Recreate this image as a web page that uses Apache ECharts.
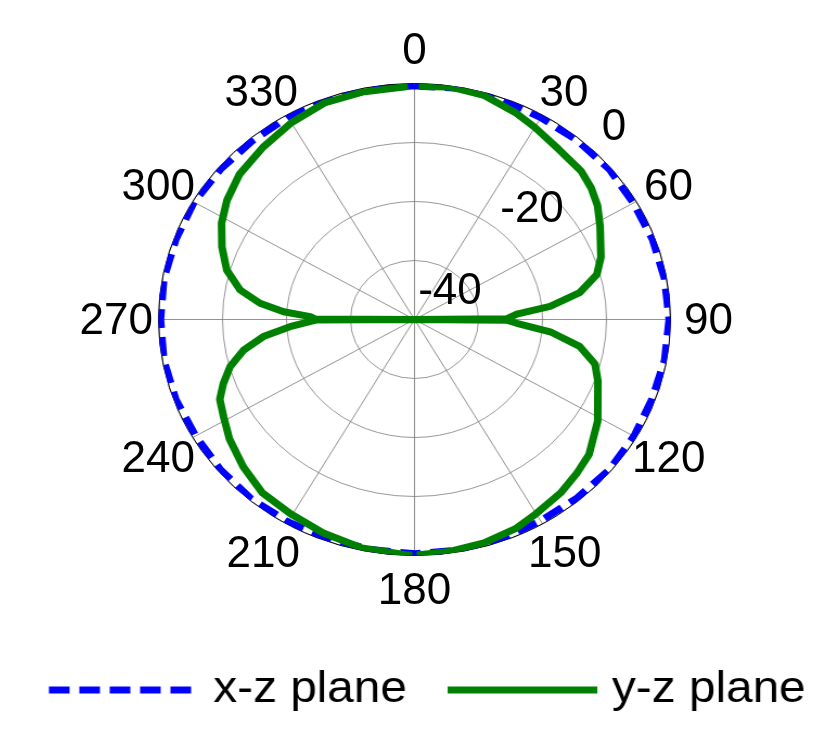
<!DOCTYPE html>
<html><head><meta charset="utf-8">
<script src="https://cdn.jsdelivr.net/npm/echarts@6/dist/echarts.min.js"></script>
<style>
html,body{margin:0;padding:0;background:#fff;overflow:hidden;width:830px;height:753px;}
#plot{position:absolute;left:0;top:0;width:830px;height:753px;transform-origin:414.5px 319.5px;transform:scaleX(1.0847);}
#text{position:absolute;left:0;top:0;width:830px;height:753px;}
</style></head><body>
<div id="plot"></div><div id="text"></div>
<script>
const FONT = '"Liberation Sans", Arial, Helvetica, sans-serif';

// ---- data ----
const seriesNames = ['x-z plane', 'y-z plane'];

const xzAngles = [0,10,20,30,40,50,60,70,80,90,100,110,120,130,140,150,160,170,180,
                  190,200,210,220,230,240,250,260,270,280,290,300,310,320,330,340,350,360];
const xzValues = [-0.4,-0.2,-0.3,-0.5,-0.4,-0.3,-0.5,-0.4,-0.3,-0.2,-0.3,-0.5,-0.4,-0.3,-0.5,-0.6,-0.4,-0.3,-0.3,
                  -0.4,-0.5,-0.4,-0.3,-0.4,-0.5,-0.3,-0.2,-0.3,-0.2,-0.3,-0.2,-0.4,-0.5,-0.4,-0.5,-0.4,-0.4];

const yzAngles = [1,8,16,24.5,30,38,46,51,56,61.5,70,75,80,84,86.7,89.5,90,90.5,92.3,95.6,
                  100,105,110,121,130,136,142,150,156,164,172,179.5,180,180.5,182,192,201.5,210.5,219,227,
                  235,241,246,250,254.5,259,263,266.4,269.7,270,270.3,271.7,273.7,276.5,280.4,285.9,292.2,298.5,304.6,312,
                  321,330,339,348,358.5];
const yzValues = [-0.5,-0.2,-0.5,-1.6,-2.4,-3.4,-3.8,-4.5,-5.5,-7.0,-9.0,-10.5,-13.8,-18.7,-24,-25.6,-40,-25.6,-24,-18.7,
                  -13.8,-10.8,-9.5,-6.6,-4.4,-3.6,-2.8,-2.0,-1.2,-0.6,-0.3,-0.1,null,-0.1,-0.1,-0.4,-1.1,-1.8,-2.2,-3.4,
                  -4.7,-5.9,-6.7,-8.2,-10.1,-12.8,-16.2,-20.5,-24.7,-40,-24.5,-23.7,-19.5,-15.7,-12.3,-9.5,-7.5,-5.7,-4.4,-3.2,
                  -2.4,-1.5,-0.7,-0.6,-0.5];

const angleTickLabels = [0,30,60,90,120,150,180,210,240,270,300,330];
const radiusTickLabels = [-40,-20,0];

// ---- build ----
const toPolar = (vals, angs) => vals.map((v, i) => [v === null ? '-' : v, angs[i]]);
const xzData = toPolar(xzValues, xzAngles);
const yzData = toPolar(yzValues, yzAngles);

const plot = echarts.init(document.getElementById('plot'));
plot.setOption({
  animation: false,
  backgroundColor: '#fff',
  polar: { center: [414.5, 319.5], radius: 236 },
  angleAxis: {
    type: 'value', min: 0, max: 360, interval: 30, startAngle: 90, clockwise: true,
    axisLine: { show: true, lineStyle: { color: '#000', width: 1 } },
    axisTick: { show: false }, axisLabel: { show: false },
    splitLine: { show: true, lineStyle: { color: '#777', width: 0.8 } }
  },
  radiusAxis: {
    type: 'value', min: -40, max: 0, interval: 10,
    axisLine: { show: false }, axisTick: { show: false }, axisLabel: { show: false },
    splitLine: { show: true, lineStyle: { color: '#999', width: 1 } }
  },
  legend: {
    data: seriesNames, left: 69, top: 663, itemWidth: 138, itemHeight: 14, itemGap: 34,
    lineStyle: { width: 7 },
    itemStyle: { opacity: 0 },
    textStyle: { fontSize: 44, fontFamily: FONT, color: '#000', padding: [0, 0, 0, 8.5] }
  },
  series: [
    { name: seriesNames[0], type: 'line', coordinateSystem: 'polar', symbol: 'none', data: xzData,
      lineStyle: { color: '#0000ff', width: 7, type: [19, 9] }, itemStyle: { color: '#0000ff' } },
    { name: seriesNames[1], type: 'line', coordinateSystem: 'polar', symbol: 'none', data: yzData,
      lineStyle: { color: '#008000', width: 7 }, itemStyle: { color: '#008000' } }
  ]
});

// label layer (not stretched)
const pads = {
  0: [0, 0, 51.5, 0], 30: [0, 0, 26.5, 15], 60: [0, 0, 0, 39], 90: [5, 0, 0, 49.5],
  120: [16.5, 0, 0, 27], 150: [45.5, 0, 0, 3.5], 180: [60.5, 0, 0, 0], 210: [45.5, 4.5, 0, 0],
  240: [16.5, 29, 0, 0], 270: [5, 41.5, 0, 0], 300: [0, 29, 0, 0], 330: [0, 6.5, 26.5, 0]
};
const rich = {};
angleTickLabels.forEach(a => {
  rich['a' + a] = { fontSize: 44, fontFamily: FONT, color: '#000', lineHeight: 44, padding: pads[a] };
});

const text = echarts.init(document.getElementById('text'));
text.setOption({
  animation: false,
  polar: [{ center: [414.5, 319.5], radius: 236 }, { center: [450, 292], radius: 232 }],
  angleAxis: [
    { polarIndex: 0, type: 'value', min: 0, max: 360, interval: 30, startAngle: 90, clockwise: true,
      axisLine: { show: false }, axisTick: { show: false }, splitLine: { show: false },
      axisLabel: { show: true, margin: -16, fontSize: 44, fontFamily: FONT, color: '#000', rich: rich,
        formatter: v => angleTickLabels.indexOf(v) >= 0 ? '{a' + v + '|' + v + '}' : '' } },
    { polarIndex: 1, type: 'value', min: 0, max: 360, startAngle: 45, clockwise: true,
      axisLine: { show: false }, axisTick: { show: false }, splitLine: { show: false }, axisLabel: { show: false } }
  ],
  radiusAxis: [
    { polarIndex: 0, type: 'value', min: -40, max: 0, interval: 10, show: false },
    { polarIndex: 1, type: 'value', min: -40, max: 0, interval: 20,
      axisLine: { show: false }, axisTick: { show: false }, splitLine: { show: false },
      axisLabel: { show: true, margin: 0, align: 'center', verticalAlign: 'middle', fontSize: 44, fontFamily: FONT, color: '#000',
        formatter: v => radiusTickLabels.indexOf(v) >= 0 ? String(v) : '' } }
  ]
});
</script>
</body></html>
